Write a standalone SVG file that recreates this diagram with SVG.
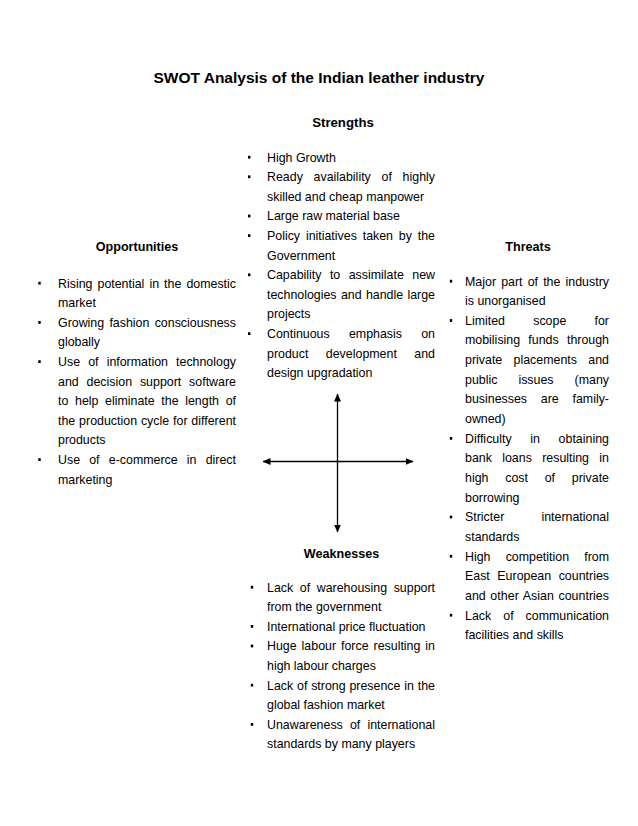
<svg xmlns="http://www.w3.org/2000/svg" width="638" height="826" viewBox="0 0 638 826">
<style>
text{font-family:"Liberation Sans",Arial,Helvetica,sans-serif;font-size:12.4px;fill:#000}
.title{font-weight:bold;font-size:15.5px;text-anchor:middle}
.head{font-weight:bold;font-size:12.6px;text-anchor:middle}
.bul{fill:#000}
.ax{stroke:#000;stroke-width:1.3;fill:none;marker-start:url(#ah);marker-end:url(#ah)}
</style>
<defs>
<marker id="ah" markerWidth="8" markerHeight="7" refX="7.5" refY="3.5" orient="auto-start-reverse" markerUnits="userSpaceOnUse">
<path d="M0,0 L8,3.5 L0,7 z" fill="#000"/>
</marker>
</defs>
<rect width="638" height="826" fill="#fff"/>

<g id="title">
<text class="title" x="319" y="83">SWOT Analysis of the Indian leather industry</text>
</g>

<g id="strengths">
<text class="head" x="343" y="127" style="font-size:13.2px">Strengths</text>
<rect class="bul" x="248" y="155.8" width="2.4" height="2.8"/>
<rect class="bul" x="248" y="175.4" width="2.4" height="2.8"/>
<rect class="bul" x="248" y="214.6" width="2.4" height="2.8"/>
<rect class="bul" x="248" y="234.2" width="2.4" height="2.8"/>
<rect class="bul" x="248" y="273.4" width="2.4" height="2.8"/>
<rect class="bul" x="248" y="332.2" width="2.4" height="2.8"/>
<text x="267" y="161.5">High Growth</text>
<text x="267" y="181.1" textLength="168" lengthAdjust="spacing" style="word-spacing:7.3px">Ready availability of highly</text>
<text x="267" y="200.7">skilled and cheap manpower</text>
<text x="267" y="220.3">Large raw material base</text>
<text x="267" y="239.9" textLength="168" lengthAdjust="spacing" style="word-spacing:2.4px">Policy initiatives taken by the</text>
<text x="267" y="259.5">Government</text>
<text x="267" y="279.1" textLength="168" lengthAdjust="spacing" style="word-spacing:5px">Capability to assimilate new</text>
<text x="267" y="298.7" textLength="168" lengthAdjust="spacing" style="word-spacing:0.9px">technologies and handle large</text>
<text x="267" y="318.3">projects</text>
<text x="267" y="337.9" textLength="168" lengthAdjust="spacing" style="word-spacing:15.8px">Continuous emphasis on</text>
<text x="267" y="357.5" textLength="168" lengthAdjust="spacing" style="word-spacing:14px">product development and</text>
<text x="267" y="377.1">design upgradation</text>
</g>

<g id="opportunities">
<text class="head" x="137" y="250.5">Opportunities</text>
<rect class="bul" x="38.3" y="281.8" width="2.4" height="2.8"/>
<rect class="bul" x="38.3" y="321" width="2.4" height="2.8"/>
<rect class="bul" x="38.3" y="360.2" width="2.4" height="2.8"/>
<rect class="bul" x="38.3" y="458.2" width="2.4" height="2.8"/>
<text x="58" y="287.5" textLength="178" lengthAdjust="spacing" style="word-spacing:1.6px">Rising potential in the domestic</text>
<text x="58" y="307.1">market</text>
<text x="58" y="326.7" textLength="178" lengthAdjust="spacing" style="word-spacing:1.8px">Growing fashion consciousness</text>
<text x="58" y="346.3">globally</text>
<text x="58" y="365.9" textLength="178" lengthAdjust="spacing" style="word-spacing:4.7px">Use of information technology</text>
<text x="58" y="385.5" textLength="178" lengthAdjust="spacing" style="word-spacing:4.4px">and decision support software</text>
<text x="58" y="405.1" textLength="178" lengthAdjust="spacing" style="word-spacing:3.2px">to help eliminate the length of</text>
<text x="58" y="424.7" textLength="178" lengthAdjust="spacing" style="word-spacing:0.4px">the production cycle for different</text>
<text x="58" y="444.3">products</text>
<text x="58" y="463.9" textLength="178" lengthAdjust="spacing" style="word-spacing:5.75px">Use of e-commerce in direct</text>
<text x="58" y="483.5">marketing</text>
</g>

<g id="threats">
<text class="head" x="528" y="250.5">Threats</text>
<rect class="bul" x="449.8" y="279.8" width="2.4" height="2.8"/>
<rect class="bul" x="449.8" y="319.1" width="2.4" height="2.8"/>
<rect class="bul" x="449.8" y="437" width="2.4" height="2.8"/>
<rect class="bul" x="449.8" y="515.6" width="2.4" height="2.8"/>
<rect class="bul" x="449.8" y="554.9" width="2.4" height="2.8"/>
<rect class="bul" x="449.8" y="613.8" width="2.4" height="2.8"/>
<text x="465" y="285.5" textLength="144" lengthAdjust="spacing" style="word-spacing:1.7px">Major part of the industry</text>
<text x="465" y="305.15">is unorganised</text>
<text x="465" y="324.8" textLength="144" lengthAdjust="spacing" style="word-spacing:24.8px">Limited scope for</text>
<text x="465" y="344.45" textLength="144" lengthAdjust="spacing" style="word-spacing:4.8px">mobilising funds through</text>
<text x="465" y="364.1" textLength="144" lengthAdjust="spacing" style="word-spacing:7.9px">private placements and</text>
<text x="465" y="383.75" textLength="144" lengthAdjust="spacing" style="word-spacing:17.6px">public issues (many</text>
<text x="465" y="403.4" textLength="144" lengthAdjust="spacing" style="word-spacing:10.3px">businesses are family-</text>
<text x="465" y="423.05">owned)</text>
<text x="465" y="442.7" textLength="144" lengthAdjust="spacing" style="word-spacing:15.2px">Difficulty in obtaining</text>
<text x="465" y="462.35" textLength="144" lengthAdjust="spacing" style="word-spacing:6.9px">bank loans resulting in</text>
<text x="465" y="482" textLength="144" lengthAdjust="spacing" style="word-spacing:13.3px">high cost of private</text>
<text x="465" y="501.65">borrowing</text>
<text x="465" y="521.3" textLength="144" lengthAdjust="spacing" style="word-spacing:33.7px">Stricter international</text>
<text x="465" y="540.95">standards</text>
<text x="465" y="560.6" textLength="144" lengthAdjust="spacing" style="word-spacing:11.7px">High competition from</text>
<text x="465" y="580.25" textLength="144" lengthAdjust="spacing" style="word-spacing:4.1px">East European countries</text>
<text x="465" y="599.9" textLength="144" lengthAdjust="spacing" style="word-spacing:1.1px">and other Asian countries</text>
<text x="465" y="619.55" textLength="144" lengthAdjust="spacing" style="word-spacing:8.6px">Lack of communication</text>
<text x="465" y="639.2">facilities and skills</text>
</g>

<g id="weaknesses">
<text class="head" x="341.5" y="557.5">Weaknesses</text>
<rect class="bul" x="250.8" y="585.8" width="2.4" height="2.8"/>
<rect class="bul" x="250.8" y="625" width="2.4" height="2.8"/>
<rect class="bul" x="250.8" y="644.6" width="2.4" height="2.8"/>
<rect class="bul" x="250.8" y="683.8" width="2.4" height="2.8"/>
<rect class="bul" x="250.8" y="723" width="2.4" height="2.8"/>
<text x="267" y="591.5" textLength="168" lengthAdjust="spacing" style="word-spacing:3.2px">Lack of warehousing support</text>
<text x="267" y="611.1">from the government</text>
<text x="267" y="630.7">International price fluctuation</text>
<text x="267" y="650.3" textLength="168" lengthAdjust="spacing" style="word-spacing:1.5px">Huge labour force resulting in</text>
<text x="267" y="669.9">high labour charges</text>
<text x="267" y="689.5" textLength="168" lengthAdjust="spacing" style="word-spacing:0.4px">Lack of strong presence in the</text>
<text x="267" y="709.1">global fashion market</text>
<text x="267" y="728.7" textLength="168" lengthAdjust="spacing" style="word-spacing:3.7px">Unawareness of international</text>
<text x="267" y="748.3">standards by many players</text>
</g>

<g id="connectors">
<line class="ax" x1="337.5" y1="532" x2="337.5" y2="394"/>
<line class="ax" x1="263" y1="461.5" x2="413" y2="461.5"/>
</g>
</svg>
